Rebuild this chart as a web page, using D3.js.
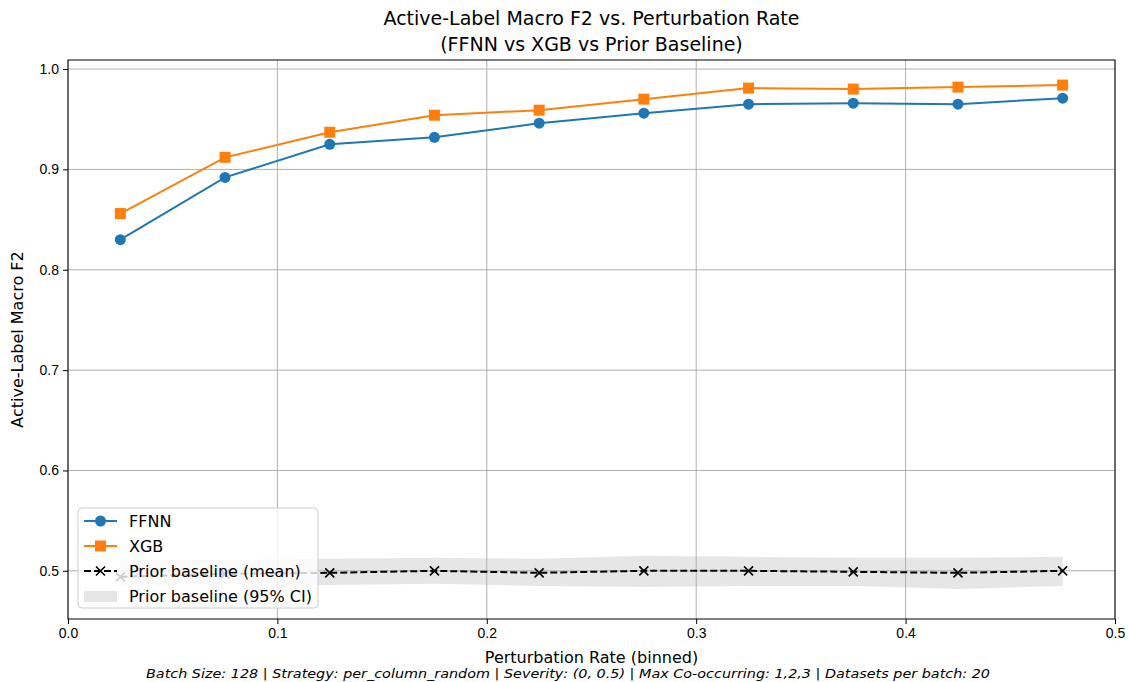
<!DOCTYPE html>
<html>
<head>
<meta charset="utf-8">
<script src="https://cdn.jsdelivr.net/npm/d3@7"></script>
<style>
  body { margin: 0; background: #fff; }
  svg { font-family: "DejaVu Sans", sans-serif; }
  .tick text { font-size: 14px; fill: #000; }
</style>
</head>
<body>
<div id="chart"></div>
<script>
// data
var rates = [0.025, 0.075, 0.125, 0.175, 0.225, 0.275, 0.325, 0.375, 0.425, 0.475];
var ffnn  = [0.830, 0.892, 0.925, 0.932, 0.946, 0.956, 0.965, 0.966, 0.965, 0.971];
var xgb   = [0.856, 0.912, 0.937, 0.954, 0.959, 0.970, 0.981, 0.980, 0.982, 0.984];
var priorMean  = [0.494, 0.497, 0.498, 0.500, 0.498, 0.500, 0.500, 0.499, 0.498, 0.500];
var priorLower = [0.486, 0.487, 0.486, 0.487, 0.485, 0.484, 0.485, 0.485, 0.482, 0.485];
var priorUpper = [0.510, 0.511, 0.512, 0.513, 0.512, 0.515, 0.514, 0.513, 0.513, 0.514];
var xTicks = [0.0, 0.1, 0.2, 0.3, 0.4, 0.5];
var yTicks = [0.5, 0.6, 0.7, 0.8, 0.9, 1.0];

var width = 1129, height = 682;
var margin = {left: 68, right: 14, top: 60, bottom: 63};

var svg = d3.select("#chart").append("svg")
    .attr("width", width).attr("height", height);

var x = d3.scaleLinear().domain([0, 0.5]).range([margin.left, width - margin.right]);
var y = d3.scaleLinear().domain([0.452, 1.009]).range([height - margin.bottom, margin.top]);

// CI band
var area = d3.area()
    .x(function(d, i) { return x(rates[i]); })
    .y0(function(d, i) { return y(priorLower[i]); })
    .y1(function(d, i) { return y(priorUpper[i]); });
svg.append("path").datum(rates)
    .attr("d", area)
    .attr("fill", "#808080").attr("fill-opacity", 0.2);

// grid
svg.append("g").selectAll("line").data(xTicks).enter().append("line")
    .attr("x1", function(d) { return x(d); }).attr("x2", function(d) { return x(d); })
    .attr("y1", margin.top).attr("y2", height - margin.bottom)
    .attr("stroke", "#b0b0b0").attr("stroke-width", 1);
svg.append("g").selectAll("line").data(yTicks).enter().append("line")
    .attr("x1", margin.left).attr("x2", width - margin.right)
    .attr("y1", function(d) { return y(d); }).attr("y2", function(d) { return y(d); })
    .attr("stroke", "#b0b0b0").attr("stroke-width", 1);

// axes
svg.append("g")
    .attr("transform", "translate(0," + (height - margin.bottom) + ")")
    .call(d3.axisBottom(x).tickValues(xTicks).tickFormat(d3.format(".1f")).tickSizeOuter(0).tickSize(5).tickPadding(4))
    .call(function(g) { g.select(".domain").remove(); });
svg.append("g")
    .attr("transform", "translate(" + margin.left + ",0)")
    .call(d3.axisLeft(y).tickValues(yTicks).tickFormat(d3.format(".1f")).tickSizeOuter(0).tickSize(5).tickPadding(4))
    .call(function(g) { g.select(".domain").remove(); });

// frame
svg.append("rect")
    .attr("x", margin.left).attr("y", margin.top)
    .attr("width", width - margin.left - margin.right)
    .attr("height", height - margin.top - margin.bottom)
    .attr("fill", "none").attr("stroke", "#000").attr("stroke-width", 1);

function lineFor(vals) {
  return d3.line()
    .x(function(d, i) { return x(rates[i]); })
    .y(function(d) { return y(d); })(vals);
}

// prior baseline mean
svg.append("path").attr("d", lineFor(priorMean))
    .attr("fill", "none").attr("stroke", "#000").attr("stroke-width", 2)
    .attr("stroke-dasharray", "7,3");
function xMark(g, cx, cy, s) {
  g.append("path")
    .attr("d", "M" + (cx - s) + "," + (cy - s) + "L" + (cx + s) + "," + (cy + s) +
               "M" + (cx - s) + "," + (cy + s) + "L" + (cx + s) + "," + (cy - s))
    .attr("stroke", "#000").attr("stroke-width", 1.6);
}
var gx = svg.append("g");
priorMean.forEach(function(v, i) { xMark(gx, x(rates[i]), y(v), 4.5); });

// FFNN
svg.append("path").attr("d", lineFor(ffnn))
    .attr("fill", "none").attr("stroke", "#1f77b4").attr("stroke-width", 2);
svg.append("g").selectAll("circle").data(ffnn).enter().append("circle")
    .attr("cx", function(d, i) { return x(rates[i]); })
    .attr("cy", function(d) { return y(d); })
    .attr("r", 5.5).attr("fill", "#1f77b4");

// XGB
svg.append("path").attr("d", lineFor(xgb))
    .attr("fill", "none").attr("stroke", "#ff7f0e").attr("stroke-width", 2);
svg.append("g").selectAll("rect").data(xgb).enter().append("rect")
    .attr("x", function(d, i) { return x(rates[i]) - 5.5; })
    .attr("y", function(d) { return y(d) - 5.5; })
    .attr("width", 11).attr("height", 11).attr("fill", "#ff7f0e");

// legend
var leg = svg.append("g").attr("transform", "translate(78,508)");
leg.append("rect").attr("width", 240).attr("height", 100).attr("rx", 4)
    .attr("fill", "#fff").attr("fill-opacity", 0.8)
    .attr("stroke", "#cccccc").attr("stroke-width", 1);
var items = [
  {label: "FFNN", type: "circle", color: "#1f77b4"},
  {label: "XGB", type: "square", color: "#ff7f0e"},
  {label: "Prior baseline (mean)", type: "x", color: "#000"},
  {label: "Prior baseline (95% CI)", type: "patch", color: "#808080"}
];
items.forEach(function(it, i) {
  var cy = 13 + i * 25;
  var g = leg.append("g");
  if (it.type == "patch") {
    g.append("rect").attr("x", 6).attr("y", cy - 5).attr("width", 33).attr("height", 11)
      .attr("fill", it.color).attr("fill-opacity", 0.2);
  } else {
    g.append("line").attr("x1", 6).attr("x2", 39).attr("y1", cy).attr("y2", cy)
      .attr("stroke", it.color).attr("stroke-width", 2)
      .attr("stroke-dasharray", it.type == "x" ? "7,3" : null);
    if (it.type == "circle") g.append("circle").attr("cx", 22.5).attr("cy", cy).attr("r", 5.5).attr("fill", it.color);
    if (it.type == "square") g.append("rect").attr("x", 17).attr("y", cy - 5.5).attr("width", 11).attr("height", 11).attr("fill", it.color);
    if (it.type == "x") xMark(g, 22.5, cy, 4.5);
  }
  g.append("text").attr("x", 51).attr("y", cy).attr("dy", "0.35em")
    .style("font-size", "16px").text(it.label);
});

// titles
svg.append("text").attr("x", (margin.left + width - margin.right) / 2).attr("y", 25)
    .attr("text-anchor", "middle").style("font-size", "19px")
    .text("Active-Label Macro F2 vs. Perturbation Rate");
svg.append("text").attr("x", (margin.left + width - margin.right) / 2).attr("y", 51)
    .attr("text-anchor", "middle").style("font-size", "19px")
    .text("(FFNN vs XGB vs Prior Baseline)");
svg.append("text")
    .attr("transform", "translate(23," + ((margin.top + height - margin.bottom) / 2) + ") rotate(-90)")
    .attr("text-anchor", "middle").style("font-size", "16px")
    .text("Active-Label Macro F2");
svg.append("text").attr("x", (margin.left + width - margin.right) / 2).attr("y", 663)
    .attr("text-anchor", "middle").style("font-size", "16px")
    .text("Perturbation Rate (binned)");
svg.append("text").attr("x", 568).attr("y", 678)
    .attr("text-anchor", "middle").style("font-size", "12px").style("font-style", "italic")
    .attr("textLength", 844).attr("lengthAdjust", "spacingAndGlyphs")
    .text("Batch Size: 128 | Strategy: per_column_random | Severity: (0, 0.5) | Max Co-occurring: 1,2,3 | Datasets per batch: 20");
</script>
</body>
</html>
